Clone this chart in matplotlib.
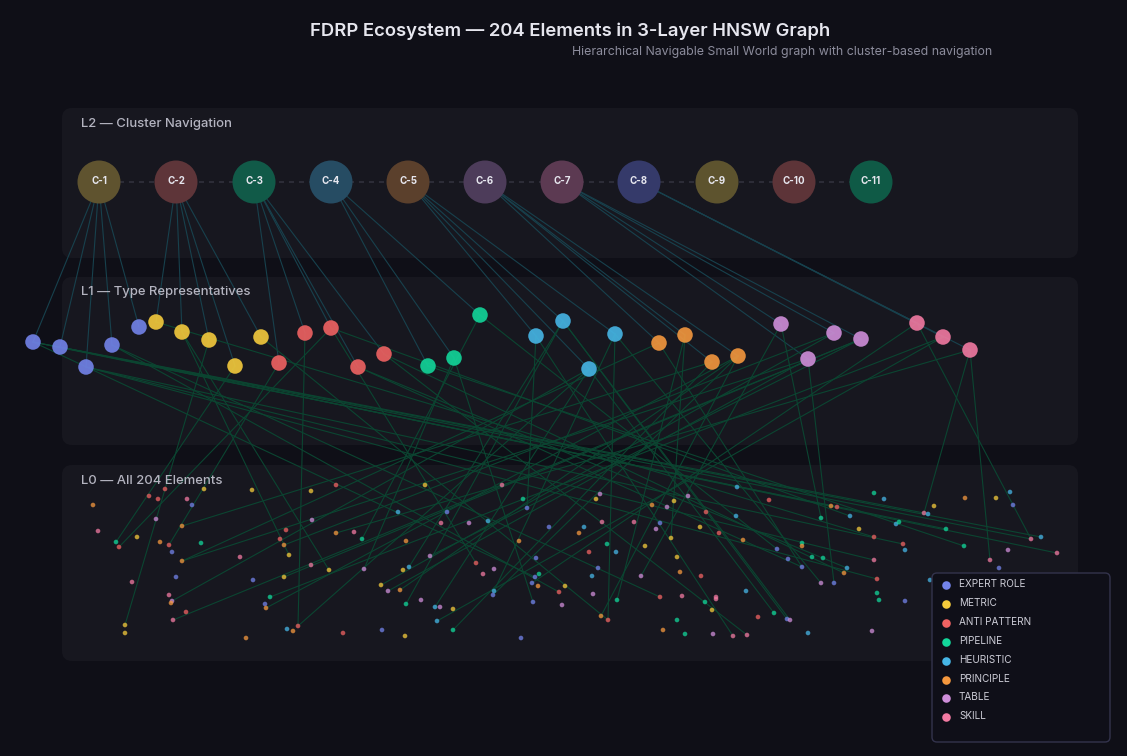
import matplotlib
matplotlib.use("Agg")
import matplotlib.pyplot as plt
from matplotlib.patches import FancyBboxPatch, Circle

plt.rcParams['font.family'] = ['Inter', 'DejaVu Sans']

# ---------------- data ----------------
type_names = ["EXPERT ROLE", "METRIC", "ANTI PATTERN", "PIPELINE",
              "HEURISTIC", "PRINCIPLE", "TABLE", "SKILL"]
type_colors = ["#7383ea", "#f5cb3c", "#f06262", "#12d69a",
               "#46b6e6", "#f5983e", "#cf8ed9", "#f27aa2"]

cluster_names = ["C-1", "C-2", "C-3", "C-4", "C-5", "C-6", "C-7", "C-8", "C-9", "C-10", "C-11"]
cluster_x = [99, 176, 254, 331, 408, 485, 562, 639, 717, 794, 871]
cluster_y = [182] * 11
cluster_colors = ["#5f532f", "#5e3539", "#115a48", "#264c63", "#5b402c", "#4d3c5a",
                  "#5c3a52", "#353a6a", "#5d532e", "#5d3438", "#0f5a46"]
cluster_type = [0, 1, 2, 3, 4, 5, 6, 7, None, None, None]

# L1 type representatives
l1_x = [33, 60, 86, 112, 139,
        156, 182, 209, 235, 261,
        279, 305, 331, 358, 384,
        428, 454, 480,
        536, 563, 589, 615,
        659, 685, 712, 738,
        781, 808, 834, 861,
        917, 943, 970]
l1_y = [342, 347, 367, 345, 327,
        322, 332, 340, 366, 337,
        363, 333, 328, 367, 354,
        366, 358, 315,
        336, 321, 369, 334,
        343, 335, 362, 356,
        324, 359, 333, 339,
        323, 337, 350]
l1_type = [0] * 5 + [1] * 5 + [2] * 5 + [3] * 3 + [4] * 4 + [5] * 4 + [6] * 4 + [7] * 3

# L0 elements
l0_x = [93, 98, 116, 119, 137, 149, 158, 165, 156, 160, 169, 172, 182, 187, 192, 204, 201, 182, 176, 132,
        169, 172, 171, 186, 173, 125, 125, 252, 240, 253, 246, 311, 336, 312, 286, 280, 284, 289, 311, 284,
        329, 270, 265, 266, 287, 293, 298, 343, 382, 405, 336, 354, 362, 364, 381, 388, 400, 403, 409, 406,
        421, 435, 440, 453, 437, 453, 425, 398, 406, 430, 441, 447, 469, 488, 502, 523, 527, 549, 519, 476,
        483, 494, 494, 493, 536, 539, 535, 532, 538, 565, 559, 562, 533, 521, 579, 600, 596, 652, 667, 674,
        688, 737, 769, 706, 736, 602, 584, 634, 660, 656, 700, 719, 743, 671, 607, 589, 616, 645, 598, 592,
        593, 617, 601, 608, 677, 680, 701, 641, 660, 682, 716, 716, 705, 712, 746, 677, 663, 685, 713, 733,
        747, 758, 774, 787, 790, 808, 872, 777, 788, 802, 802, 802, 812, 823, 821, 831, 837, 850, 859, 874,
        874, 877, 847, 844, 821, 834, 877, 879, 874, 884, 896, 899, 903, 905, 905, 924, 928, 934, 930, 946,
        964, 965, 996, 1010, 1013, 990, 999, 1008, 1031, 1041, 1057]
l0_y = [505, 531, 542, 547, 537, 496, 499, 489, 519, 542, 545, 552, 526, 499, 505, 489, 543, 561, 577, 582,
        595, 601, 603, 612, 620, 625, 633, 490, 557, 580, 638, 491, 485, 520, 530, 539, 545, 555, 565, 577,
        570, 597, 604, 608, 629, 631, 626, 633, 630, 636, 533, 532, 539, 569, 585, 591, 590, 570, 567, 604,
        600, 607, 607, 609, 621, 630, 485, 512, 541, 556, 523, 512, 523, 521, 485, 499, 508, 527, 541, 563,
        574, 569, 591, 595, 558, 574, 577, 583, 586, 586, 592, 605, 602, 638, 533, 494, 499, 505, 507, 501,
        496, 487, 500, 512, 516, 522, 527, 522, 523, 529, 527, 533, 540, 538, 544, 552, 552, 546, 568, 576,
        594, 600, 616, 620, 557, 572, 576, 576, 597, 596, 597, 599, 602, 610, 591, 620, 630, 634, 634, 636,
        635, 617, 613, 619, 620, 633, 631, 549, 559, 567, 543, 546, 557, 558, 518, 506, 507, 516, 529, 537,
        560, 579, 568, 573, 583, 583, 593, 600, 493, 499, 524, 522, 544, 550, 601, 513, 514, 506, 580, 529,
        546, 498, 498, 492, 505, 560, 568, 550, 539, 537, 553]
l0_type = [5, 7, 3, 2, 1, 2, 2, 2, 6, 5, 2, 0, 5, 7, 0, 1, 3, 5, 0, 7,
           7, 6, 5, 2, 7, 1, 1, 1, 7, 0, 5, 1, 2, 6, 2, 2, 5, 1, 7, 1,
           1, 3, 0, 5, 4, 5, 2, 2, 0, 1, 5, 7, 3, 6, 1, 6, 5, 1, 4, 3,
           6, 4, 6, 1, 4, 3, 1, 4, 5, 6, 7, 0, 6, 4, 7, 3, 0, 0, 5, 2,
           7, 6, 4, 0, 0, 3, 0, 0, 5, 1, 2, 6, 0, 0, 5, 6, 1, 5, 6, 1,
           6, 4, 2, 2, 4, 7, 4, 7, 0, 6, 1, 2, 5, 1, 3, 2, 4, 1, 0, 4,
           6, 3, 5, 2, 1, 5, 2, 6, 2, 7, 7, 7, 3, 1, 4, 3, 5, 3, 6, 7,
           7, 2, 3, 0, 6, 4, 6, 0, 0, 0, 3, 5, 3, 3, 3, 5, 2, 4, 1, 2,
           7, 2, 4, 5, 6, 0, 3, 3, 3, 4, 4, 3, 2, 4, 0, 7, 4, 1, 4, 3,
           3, 5, 1, 4, 0, 7, 0, 6, 7, 4, 7]

# L1 -> L0 links (L1 index, L0 index)
l1_l0_edges = [
    (0, 188), (0, 189), (0, 179), (0, 86),
    (1, 175), (1, 190), (1, 156),
    (2, 160), (2, 161), (2, 172),
    (3, 128), (3, 90),
    (5, 159),
    (6, 40), (6, 37),
    (7, 25),
    (8, 2),
    (9, 123),
    (10, 10),
    (11, 46),
    (12, 79), (12, 3), (12, 157),
    (13, 162), (13, 149),
    (14, 163), (14, 140),
    (15, 180),
    (16, 53), (16, 92),
    (17, 52), (17, 147),
    (18, 139), (18, 76),
    (19, 58), (19, 59), (19, 143), (19, 144),
    (20, 46), (20, 21), (20, 61), (20, 142),
    (21, 82), (21, 123), (21, 164),
    (22, 17), (22, 149),
    (23, 121), (23, 113),
    (24, 12), (24, 65),
    (25, 43), (25, 56), (25, 83), (25, 122),
    (26, 127), (26, 154),
    (27, 17), (27, 165), (27, 55),
    (28, 54), (28, 36),
    (29, 24), (29, 39), (29, 69),
    (30, 188), (30, 87),
    (31, 41), (31, 64),
    (32, 185), (32, 175), (32, 50),
]

layer_labels = ["L2 \u2014 Cluster Navigation", "L1 \u2014 Type Representatives", "L0 \u2014 All 204 Elements"]
title = "FDRP Ecosystem \u2014 204 Elements in 3-Layer HNSW Graph"
subtitle = "Hierarchical Navigable Small World graph with cluster-based navigation"

# ---------------- drawing ----------------
BG = "#0f0f17"
PANEL = "#17171f"

fig = plt.figure(figsize=(11.27, 7.56), dpi=100, facecolor=BG)
ax = fig.add_axes([0, 0, 1, 1])
ax.set_facecolor(BG)
ax.set_xlim(0, 1127)
ax.set_ylim(756, 0)
ax.axis("off")

# layer panels
panels = [(62, 108, 1016, 150), (62, 277, 1016, 168), (62, 465, 1016, 196)]
for (px, py, pw, ph), lab in zip(panels, layer_labels):
    ax.add_patch(FancyBboxPatch((px, py), pw, ph, boxstyle="round,pad=0,rounding_size=10",
                                facecolor=PANEL, edgecolor="none", zorder=0))
    ax.text(px + 19, py + 15.5, lab, color="#b4b4c0", fontsize=9.4, va="center", ha="left",
            fontweight="medium", zorder=6)

# dashed chain between clusters
ax.plot(cluster_x, cluster_y, color="#31313d", lw=1.2, ls=(0, (3, 3)), zorder=1)

# cluster -> L1 links
for ci, t in enumerate(cluster_type):
    if t is None:
        continue
    for j, lt in enumerate(l1_type):
        if lt == t:
            ax.plot([cluster_x[ci], l1_x[j]], [cluster_y[ci], l1_y[j]],
                    color="#17414d", lw=0.8, zorder=2)

# L1 -> L0 links
for a, b in l1_l0_edges:
    ax.plot([l1_x[a], l0_x[b]], [l1_y[a], l0_y[b]],
            color="#0b4531", lw=0.8, zorder=2)

# L0 points
ax.scatter(l0_x, l0_y, s=11, c=[type_colors[t] for t in l0_type], alpha=0.75,
           linewidths=0, zorder=3)

# L1 nodes
ax.scatter(l1_x, l1_y, s=125, c=[type_colors[t] for t in l1_type], alpha=0.9,
           linewidths=0, zorder=4)

# L2 clusters
for name, cx, cy, col in zip(cluster_names, cluster_x, cluster_y, cluster_colors):
    ax.add_patch(Circle((cx, cy), 21.5, facecolor=col, edgecolor="none", zorder=5))
    ax.text(cx, cy - 1, name, color="#e6e6ee", fontsize=7, fontweight="bold",
            ha="center", va="center", zorder=6)

# title
ax.text(570, 31.5, title, color="#e6e6ee", fontsize=13.3, fontweight="semibold",
        ha="center", va="center", zorder=6)
ax.text(992, 51.5, subtitle, color="#8c8c9c", fontsize=8.9, ha="right", va="center", zorder=6)

# legend
ax.add_patch(FancyBboxPatch((932, 573), 178, 169, boxstyle="round,pad=0,rounding_size=5",
                            facecolor="#0f0f18", edgecolor="#33334c", lw=1.0, zorder=7))
for k, (nm, col) in enumerate(zip(type_names, type_colors)):
    yy = 584 + 18.9 * k
    ax.scatter([946], [yy + 1], s=38, c=[col], linewidths=0, zorder=8)
    ax.text(959, yy, nm, color="#ccccd6", fontsize=7.2, ha="left", va="center", zorder=8)

fig.savefig("out.png", dpi=100, facecolor=BG)
